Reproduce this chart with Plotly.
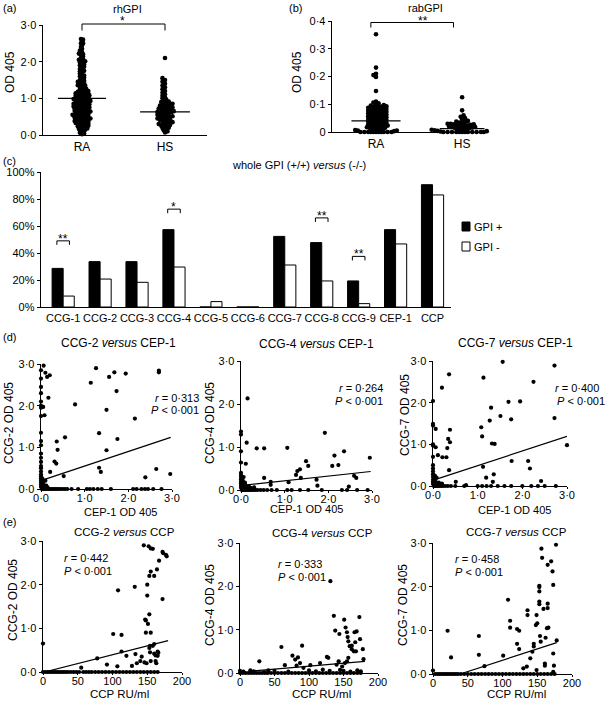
import plotly.graph_objects as go

W, H = 609, 702
FONT = "Liberation Sans, Arial, Helvetica, sans-serif"

# ---------------- data ----------------
groups = ["RA", "HS"]

rhgpi_ra = [0.02, 0.04, 0.06, 0.08, 0.1, 0.12, 0.14, 0.15, 0.17, 0.18, 0.2, 0.21, 0.22, 0.23, 0.25, 0.26, 0.27, 0.28, 0.29, 0.3,
            0.31, 0.32, 0.33, 0.34, 0.35, 0.36, 0.37, 0.38, 0.39, 0.4, 0.41, 0.42, 0.43, 0.44, 0.45, 0.46, 0.47, 0.48, 0.49, 0.5,
            0.51, 0.52, 0.53, 0.54, 0.55, 0.56, 0.57, 0.58, 0.59, 0.6, 0.61, 0.62, 0.63, 0.64, 0.65, 0.66, 0.67, 0.68, 0.69, 0.7,
            0.71, 0.72, 0.73, 0.74, 0.75, 0.76, 0.77, 0.78, 0.79, 0.8, 0.81, 0.82, 0.83, 0.84, 0.85, 0.86, 0.87, 0.88, 0.89, 0.9,
            0.91, 0.92, 0.93, 0.94, 0.95, 0.96, 0.97, 0.98, 0.99, 1.0, 1.01, 1.02, 1.03, 1.04, 1.05, 1.06, 1.07, 1.08, 1.09, 1.1,
            1.11, 1.12, 1.13, 1.14, 1.15, 1.16, 1.17, 1.18, 1.19, 1.2, 1.22, 1.24, 1.26, 1.28, 1.3, 1.32, 1.34, 1.36, 1.38, 1.4,
            1.42, 1.44, 1.46, 1.48, 1.5, 1.53, 1.56, 1.59, 1.62, 1.65, 1.68, 1.71, 1.74, 1.77, 1.8, 1.83, 1.86, 1.89, 1.92, 1.95,
            1.98, 2.01, 2.04, 2.07, 2.1, 2.14, 2.18, 2.22, 2.26, 2.3, 2.35, 2.4, 2.45, 2.5, 2.55, 2.6, 2.62,
            0.24, 0.33, 0.43, 0.53, 0.63, 0.73, 0.83, 0.93, 1.03, 1.13, 0.38, 0.48, 0.58, 0.68, 0.78, 0.88, 0.98, 1.08,
            0.45, 0.55, 0.65, 0.75, 0.85, 0.95, 1.25, 1.35, 1.45, 1.6, 1.75, 1.9, 2.0, 2.05, 2.2, 2.5]
rhgpi_hs = [0.07, 0.1, 0.13, 0.16, 0.19, 0.22, 0.25, 0.27, 0.29, 0.31, 0.33, 0.35, 0.37, 0.39, 0.41, 0.43, 0.45, 0.47, 0.49, 0.51,
            0.53, 0.55, 0.57, 0.59, 0.61, 0.63, 0.65, 0.67, 0.69, 0.71, 0.73, 0.75, 0.77, 0.79, 0.81, 0.83, 0.85, 0.87, 0.89, 0.91,
            0.94, 0.97, 1.0, 1.03, 1.07, 1.11, 1.15, 1.2, 1.25, 1.3, 1.35, 1.4, 1.45, 1.5, 1.55, 2.1,
            0.3, 0.4, 0.5, 0.6, 0.7, 0.8, 0.9, 0.35, 0.45, 0.55, 0.65, 0.75, 0.85, 0.2, 0.26, 0.5, 0.62, 0.72]
rhgpi_means = [1.0, 0.63]

rabgpi_ra = [0, 0, 0, 0, 0, 0, 0, 0, 0, 0, 0,
             0.003, 0.005, 0.007, 0.009, 0.011, 0.013, 0.015, 0.017, 0.019, 0.021, 0.023, 0.025, 0.027, 0.029, 0.031,
             0.033, 0.035, 0.037, 0.039, 0.041, 0.043, 0.045, 0.047, 0.049, 0.051, 0.053, 0.055, 0.057, 0.059, 0.061,
             0.063, 0.065, 0.067, 0.069, 0.071, 0.073, 0.075, 0.077, 0.079, 0.081, 0.083, 0.085, 0.087, 0.089, 0.091,
             0.093, 0.095, 0.097, 0.1, 0.103, 0.106, 0.11, 0.148, 0.198, 0.205, 0.21, 0.232, 0.352,
             0.01, 0.02, 0.03, 0.04, 0.05, 0.06, 0.07, 0.08, 0.09, 0.015, 0.025, 0.035, 0.045, 0.055, 0.065, 0.075,
             0.085, 0.005, 0.012, 0.022, 0.032, 0.042, 0.052, 0.062, 0.072, 0.082, 0.092]
rabgpi_hs = [0, 0, 0, 0, 0, 0, 0, 0, 0, 0, 0, 0,
             0.002, 0.004, 0.006, 0.008, 0.01, 0.012, 0.014, 0.016, 0.018, 0.02, 0.022, 0.024, 0.026, 0.028, 0.03,
             0.032, 0.034, 0.036, 0.038, 0.04, 0.045, 0.05, 0.055, 0.06, 0.078, 0.125,
             0.005, 0.01, 0.015, 0.02, 0.025, 0.03, 0.008, 0.018, 0.028, 0.003, 0.013, 0.023]
rabgpi_means = [0.04, 0.012]

epitopes = ["CCG-1", "CCG-2", "CCG-3", "CCG-4", "CCG-5", "CCG-6", "CCG-7", "CCG-8", "CCG-9", "CEP-1", "CCP"]
gpi_pos_pct = [28.6, 33.6, 33.6, 57.3, 0, 0, 52.3, 47.7, 19.3, 57.3, 90.6]
gpi_neg_pct = [8.1, 20.7, 18.3, 29.6, 4.0, 0, 31.1, 19.3, 2.5, 46.7, 83.0]
sig_epitopes = ["CCG-1", "CCG-4", "CCG-8", "CCG-9"]
sig_marks = ["**", "*", "**", "**"]
sig_levels = [49.0, 72.5, 66.0, 37.5]

# (d) CCG-x versus CEP-1 (OD 405)
d1_x = [0.06, 0.10, 0.14, 0.20, 0.17, 0.05, 0.08, 0.36, 0.38, 0.31, 0.35, 0.21, 0.52, 0.55, 0.78, 1.14, 1.26, 1.33, 1.33, 1.37,
        1.50, 1.50, 1.56, 1.68, 1.73, 1.75, 1.94, 2.15, 2.39, 2.64, 2.70, 2.70, 2.96,
        0.02, 0.04, 0.06, 0.08, 0.10, 0.03, 0.05, 0.12, 0.15]
d1_y = [2.96, 2.79, 2.69, 2.73, 2.19, 1.97, 1.77, 1.14, 0.94, 0.66, 0.61, 0.41, 0.31, 1.24, 2.03, 2.55, 2.90, 1.34, 0.51, 0.41,
        1.90, 0.93, 2.69, 2.80, 2.35, 1.20, 2.77, 1.69, 0.28, 0.48, 2.84, 2.80, 0.36,
        0.20, 0.15, 0.10, 0.05, 0.20, 0.25, 0.12, 0.08, 0.04]
d1_on_yaxis = [2.85, 2.65, 2.45, 2.3, 2.1, 2.0, 1.95, 1.75, 1.35, 1.15, 1.05, 0.85, 0.75, 0.65, 0.55, 0.5, 0.42, 0.35, 0.3,
               0.25, 0.2, 0.15, 0.1, 0.05]
d1_on_xaxis = [0.02, 0.05, 0.08, 0.11, 0.14, 0.17, 0.2, 0.24, 0.28, 0.32, 0.36, 0.4, 0.45, 0.5, 0.55, 0.6, 0.7, 0.85, 1.05,
               1.12, 1.2, 1.3, 1.39, 1.6, 2.11, 2.19, 2.3, 2.38, 2.45, 2.57, 2.76]
d1_fit_x = [0.05, 2.97]
d1_fit_y = [0.22, 1.24]

d2_x = [0.15, 0.13, 0.36, 0.53, 1.06, 1.92, 2.36, 2.14, 2.09, 2.23, 2.95, 1.49, 1.54, 1.35, 1.29, 1.26, 1.37, 1.09, 0.53, 0.68,
        0.68, 1.73, 1.75, 2.59, 2.64, 2.47, 0.11,
        0.03, 0.05, 0.08, 0.1, 0.14, 0.18, 0.22, 0.06, 0.12, 0.3, 0.04, 0.09]
d2_y = [2.13, 1.10, 0.97, 0.97, 0.98, 1.33, 0.90, 0.80, 0.56, 0.58, 0.75, 0.67, 0.56, 0.48, 0.44, 0.35, 0.28, 0.18, 0.28, 0.19,
        0.12, 0.24, 0.10, 0.33, 0.28, 0.08, 0.61,
        0.15, 0.1, 0.07, 0.12, 0.06, 0.09, 0.05, 0.3, 0.04, 0.06, 0.22, 0.17]
d2_on_yaxis = [1.36, 1.29, 0.9, 0.64, 0.4, 0.35, 0.3, 0.25, 0.2, 0.15, 0.1, 0.05]
d2_on_xaxis = [0.02, 0.05, 0.08, 0.11, 0.14, 0.17, 0.2, 0.24, 0.28, 0.33, 0.38, 0.45, 0.52, 0.6, 0.7, 0.82, 1.06, 1.16, 1.35,
               1.54, 1.85, 2.31, 2.43, 2.66, 2.9]
d2_fit_x = [0.05, 2.97]
d2_fit_y = [0.11, 0.43]

d3_x = [0.36, 0.20, 0.06, 0.06, 0.38, 0.34, 0.38, 0.32, 0.11, 0.21, 0.30, 0.36, 1.13, 1.56, 2.72, 2.25, 1.95, 1.69, 1.30, 1.51,
        1.27, 1.75, 2.72, 1.08, 1.10, 1.32, 1.38, 3.00, 1.76, 2.13, 2.17, 1.12, 1.19, 1.36, 1.34, 2.42, 0.51, 0.74,
        0.03, 0.06, 0.1, 0.13, 0.04, 0.08, 0.15, 0.2]
d3_y = [2.68, 2.36, 1.37, 0.93, 1.35, 1.13, 1.05, 0.91, 0.74, 0.69, 0.69, 0.38, 2.60, 2.98, 2.89, 2.50, 2.03, 2.02, 1.88, 1.68,
        1.57, 1.60, 1.63, 1.41, 1.19, 1.02, 1.01, 0.98, 0.60, 0.60, 0.42, 0.46, 0.20, 0.28, 0.10, 0.12, 0.10, 0.02,
        0.15, 0.1, 0.05, 0.08, 0.25, 0.2, 0.04, 0.06]
d3_on_yaxis = [2.04, 1.49, 1.45, 1.0, 0.97, 0.7, 0.5, 0.42, 0.35, 0.28, 0.22, 0.15, 0.1, 0.05]
d3_on_xaxis = [0.02, 0.05, 0.08, 0.11, 0.14, 0.18, 0.22, 0.27, 0.33, 0.4, 0.5, 0.7, 1.0, 1.1, 1.2, 1.3, 1.45, 1.6, 1.75, 2.0,
               2.2, 2.35, 2.5, 2.75]
d3_fit_x = [0.06, 3.0]
d3_fit_y = [0.16, 1.19]

# (e) CCG-x versus CCP (RU/ml)
e1_x = [0, 78, 55, 92, 101, 107, 108, 113, 113, 120, 128, 132, 133, 135, 140, 142, 145, 146, 147, 148, 148, 149, 150, 150, 151,
        152, 153, 153, 153, 154, 154, 155, 155, 155, 155, 158, 158, 160, 160, 162, 162, 163, 164, 165, 165, 166, 167, 172,
        172, 173, 177, 178, 160]
e1_y = [0.65, 0.31, 0.10, 0.17, 0.87, 0.13, 1.87, 0.85, 0.47, 0.37, 0.14, 1.95, 0.41, 0.20, 0.25, 0.35, 2.90, 0.22, 1.20, 1.18,
        0.90, 0.20, 1.75, 2.00, 1.10, 2.88, 2.20, 1.32, 0.55, 0.60, 0.45, 2.83, 2.30, 0.90, 0.25, 2.82, 0.60, 2.20, 0.42,
        0.38, 0.25, 0.20, 2.35, 0.47, 0.37, 0.44, 2.55, 1.67, 2.75, 2.72, 2.68, 2.65, 0.64]
e1_on_xaxis = [0, 3, 6, 9, 12, 15, 18, 21, 24, 27, 30, 33, 36, 40, 44, 48, 52, 58, 62, 66, 70, 75, 80, 85, 90, 95, 100, 105,
               110, 115, 120, 125, 130, 135, 140, 145, 150, 155, 160, 165]
e1_fit_x = [2, 180]
e1_fit_y = [0.0, 0.72]

e2_x = [28, 15, 41, 60, 65, 76, 80, 84, 87, 90, 82, 92, 102, 116, 126, 128, 131, 136, 138, 144, 140, 143, 151, 153, 155, 156,
        157, 159, 162, 162, 165, 166, 167, 169, 173, 174, 178, 179, 168, 155, 157, 152, 148,
        0, 5, 20, 35, 50, 70, 100, 110, 120, 130, 145, 150, 160, 170, 175]
e2_y = [0.27, 0.06, 0.06, 0.60, 0.18, 0.40, 0.31, 0.36, 0.23, 0.63, 0.17, 0.12, 0.18, 0.23, 0.37, 0.35, 2.12, 1.32, 0.98, 0.90,
        0.19, 0.27, 1.23, 1.05, 0.94, 0.83, 0.73, 0.62, 0.63, 0.55, 0.50, 0.94, 0.71, 0.96, 1.29, 0.78, 0.55, 0.32, 0.50,
        0.27, 0.35, 0.23, 0.15,
        0.05, 0.03, 0.04, 0.02, 0.05, 0.03, 0.06, 0.04, 0.08, 0.05, 0.07, 0.05, 0.03, 0.06, 0.04]
e2_on_xaxis = [0, 4, 8, 12, 16, 20, 24, 28, 32, 36, 40, 45, 50, 55, 60, 65, 70, 75, 80, 85, 90, 95, 100, 105, 110, 115, 120,
               125, 130, 135, 140, 145, 150, 155, 160, 165, 170, 175]
e2_fit_x = [15, 181]
e2_fit_y = [0.04, 0.27]

e3_x = [21, 26, 0, 66, 66, 74, 101, 108, 111, 111, 121, 124, 121, 124, 136, 136, 140, 145, 143, 145, 148, 149, 150, 153, 153,
        153, 153, 153, 154, 155, 156, 157, 159, 162, 161, 161, 165, 165, 165, 164, 166, 170, 172, 173, 173, 174, 177, 178,
        173, 135, 130, 149]
e3_y = [0.99, 0.38, 0.08, 0.87, 0.44, 0.18, 0.42, 1.70, 1.22, 1.06, 1.03, 0.99, 0.69, 0.57, 1.46, 1.35, 0.36, 0.69, 0.51, 0.63,
        1.12, 1.35, 1.16, 2.02, 1.99, 1.89, 1.66, 1.60, 0.87, 0.74, 2.87, 2.66, 1.49, 0.83, 0.24, 0.19, 2.50, 1.61, 1.51,
        1.05, 1.06, 2.58, 2.35, 2.04, 0.47, 0.19, 2.96, 0.77, 0.05, 0.17, 0.13, 0.09]
e3_on_xaxis = [3, 6, 9, 12, 15, 18, 21, 24, 27, 30, 33, 36, 40, 45, 50, 55, 60, 65, 70, 75, 80, 85, 90, 95, 100, 105, 110, 115,
               120, 125, 130, 135, 140, 145, 150, 155, 160, 165, 170, 175]
e3_fit_x = [39, 178]
e3_fit_y = [0.0, 0.72]

od_ticks = [0, 1, 2, 3]
od_ticktext = ["0·0", "1·0", "2·0", "3·0"]
rab_ticks = [0, 0.1, 0.2, 0.3, 0.4]
rab_ticktext = ["0", "0·1", "0·2", "0·3", "0·4"]
pct_ticks = [0, 20, 40, 60, 80, 100]
pct_ticktext = ["0%", "20%", "40%", "60%", "80%", "100%"]
ccp_ticks = [0, 50, 100, 150, 200]

# ---------------- helpers ----------------
def px(xp):
    return xp / W


def py(yp):
    return 1 - yp / H


def swarm(values, ypx, xpx, gap):
    """beeswarm layout: x offsets (data units) keeping markers at least `gap` px apart"""
    placed = []
    offs = [0.0] * len(values)
    order = sorted(range(len(values)), key=lambda i: values[i])
    step = gap * 0.5
    for n, i in enumerate(order):
        y = values[i] * ypx
        k = 0
        chosen = None
        while chosen is None:
            if k == 0:
                cands = [0.0]
            else:
                cands = [k * step, -k * step] if n % 2 else [-k * step, k * step]
            for c in cands:
                ok = True
                for (qx, qy) in placed:
                    if abs(qy - y) < gap and (qx - c) ** 2 + (qy - y) ** 2 < gap * gap:
                        ok = False
                        break
                if ok:
                    chosen = c
                    break
            k += 1
        placed.append((chosen, y))
        offs[i] = chosen / xpx
    return offs


fig = go.Figure()
layout = {}
shapes = []
annotations = []

# domains in pixels: (left, right), (top, bottom)
panels = {
    1: ((43, 207), (25, 135)),
    2: ((332, 487), (21, 132)),
    3: ((41, 451), (172, 307)),
    4: ((41, 172), (364, 489)),
    5: ((241, 372), (361, 490)),
    6: ((433, 567), (361, 486)),
    7: ((43, 182), (541, 672)),
    8: ((240, 378), (543, 673)),
    9: ((433, 572), (543, 674)),
}

tickfont = dict(family=FONT, size=11, color="black")


def axname(i, letter):
    return f"{letter}axis" if i == 1 else f"{letter}axis{i}"


def ref(i, letter):
    return letter if i == 1 else f"{letter}{i}"


for i, ((l, r), (t, b)) in panels.items():
    base = dict(showline=True, linecolor="black", linewidth=1.3, showgrid=False, zeroline=False,
                ticks="outside", ticklen=3, tickwidth=1, tickcolor="black", tickfont=tickfont,
                fixedrange=True, automargin=False)
    layout[axname(i, "x")] = dict(base, domain=[px(l), px(r)], anchor=ref(i, "y"), tickangle=0)
    layout[axname(i, "y")] = dict(base, domain=[py(b), py(t)], anchor=ref(i, "x"))


def ann(text, x, y, size=11, xanchor="center", yanchor="middle", angle=0, **kw):
    annotations.append(dict(text=text, x=px(x), y=py(y), xref="paper", yref="paper", showarrow=False,
                            xanchor=xanchor, yanchor=yanchor, textangle=angle,
                            font=dict(family=FONT, size=size, color="black"), **kw))


dot = dict(color="black", size=4.2, line=dict(width=0))

# ---------- (a) and (b) beeswarm panels ----------
sw_specs = [
    (1, [rhgpi_ra, rhgpi_hs], rhgpi_means, [0.53, 2.506], [0, 3], 110 / 3, 83.0, [0.29, 0.30], [2.1, 2.5]),
    (2, [rabgpi_ra, rabgpi_hs], rabgpi_means, [0.489, 2.289], [0, 0.4], 111 / 0.4, 86.1, [0.285, 0.26], [2.6, 2.9]),
]
for (i, sets, means, xr, yr, ypx, xpx, halfw, gaps) in sw_specs:
    for g, vals in enumerate(sets):
        offs = swarm(vals, ypx, xpx, gaps[g])
        fig.add_trace(go.Scatter(x=[g + 1 + o for o in offs], y=vals, mode="markers", marker=dict(dot, size=4.6),
                                 xaxis=ref(i, "x"), yaxis=ref(i, "y"), cliponaxis=False, showlegend=False,
                                 hoverinfo="skip"))
        fig.add_trace(go.Scatter(x=[g + 1 - halfw[g], g + 1 + halfw[g]], y=[means[g], means[g]], mode="lines",
                                 line=dict(color="black", width=1.2), xaxis=ref(i, "x"), yaxis=ref(i, "y"),
                                 cliponaxis=False, showlegend=False, hoverinfo="skip"))
    layout[axname(i, "x")].update(range=xr, tickvals=[1, 2], ticktext=groups, ticks="",
                                  tickfont=dict(family=FONT, size=12, color="black"))
    layout[axname(i, "y")].update(range=yr)

layout["yaxis"].update(tickvals=od_ticks, ticktext=od_ticktext)
layout["yaxis2"].update(tickvals=rab_ticks, ticktext=rab_ticktext)

# significance brackets (a), (b)
for (i, xl, xr_, ytop, ybot, mark, sx, sy) in [(1, 1.0, 2.0, 24, 30.5, "*", 122, 21),
                                                (2, 0.94, 1.9, 22.5, 27.5, "**", 423, 21)]:
    shapes.append(dict(type="path", xref=ref(i, "x"), yref="paper",
                       path=f"M {xl},{py(ybot)} L {xl},{py(ytop)} L {xr_},{py(ytop)} L {xr_},{py(ybot)}",
                       line=dict(color="black", width=1)))
    ann(mark, sx, sy, size=12)

ann("(a)", 1, 8, xanchor="left")
ann("(b)", 287, 8, xanchor="left")
ann("rhGPI", 127, 9)
ann("rabGPI", 425, 8)
ann("OD 405", 10, 72, size=12, angle=-90)
ann("OD 405", 297, 72, size=12, angle=-90)

# ---------- (c) grouped bars ----------
fig.add_trace(go.Bar(x=epitopes, y=gpi_pos_pct, name="GPI +", marker=dict(color="black", line=dict(color="black", width=1)),
                     xaxis="x3", yaxis="y3", showlegend=False, hoverinfo="skip"))
fig.add_trace(go.Bar(x=epitopes, y=gpi_neg_pct, name="GPI -", marker=dict(color="white", line=dict(color="black", width=1)),
                     xaxis="x3", yaxis="y3", showlegend=False, hoverinfo="skip"))
layout["xaxis3"].update(type="category", range=[-0.6, 10.5], ticks="", categoryorder="array", categoryarray=epitopes,
                        tickfont=dict(family=FONT, size=11, color="black"), tickangle=0)
layout["yaxis3"].update(range=[0, 100], tickvals=pct_ticks, ticktext=pct_ticktext)

for name, mark, lvl in zip(sig_epitopes, sig_marks, sig_levels):
    c = epitopes.index(name)
    shapes.append(dict(type="path", xref="x3", yref="y3",
                       path=f"M {c - 0.17},{lvl - 3} L {c - 0.17},{lvl} L {c + 0.17},{lvl} L {c + 0.17},{lvl - 3}",
                       line=dict(color="black", width=1)))
    annotations.append(dict(text=mark, x=c, y=lvl + 1.5, xref="x3", yref="y3", showarrow=False,
                            xanchor="center", yanchor="middle", font=dict(family=FONT, size=12, color="black")))

ann("(c)", 1, 161, xanchor="left")
ann("whole GPI (+/+) <i>versus</i> (-/-)", 299, 165)
# legend (drawn manually)
for (ytop, fill, label) in [(222, "black", "GPI +"), (242, "white", "GPI -")]:
    shapes.append(dict(type="rect", xref="paper", yref="paper", x0=px(462), x1=px(470), y0=py(ytop + 9), y1=py(ytop),
                       fillcolor=fill, line=dict(color="black", width=1)))
    ann(label, 472, ytop + 5, xanchor="left")

# ---------- (d) and (e) scatter panels ----------
scatter_specs = [
    (4, d1_x, d1_y, d1_on_yaxis, d1_on_xaxis, d1_fit_x, d1_fit_y),
    (5, d2_x, d2_y, d2_on_yaxis, d2_on_xaxis, d2_fit_x, d2_fit_y),
    (6, d3_x, d3_y, d3_on_yaxis, d3_on_xaxis, d3_fit_x, d3_fit_y),
    (7, e1_x, e1_y, [], e1_on_xaxis, e1_fit_x, e1_fit_y),
    (8, e2_x, e2_y, [], e2_on_xaxis, e2_fit_x, e2_fit_y),
    (9, e3_x, e3_y, [], e3_on_xaxis, e3_fit_x, e3_fit_y),
]
for (i, xs, ys, on_y, on_x, fx, fy) in scatter_specs:
    allx = list(xs) + [0] * len(on_y) + list(on_x)
    ally = list(ys) + list(on_y) + [0] * len(on_x)
    fig.add_trace(go.Scatter(x=allx, y=ally, mode="markers", marker=dot, xaxis=ref(i, "x"), yaxis=ref(i, "y"),
                             cliponaxis=False, showlegend=False, hoverinfo="skip"))
    fig.add_trace(go.Scatter(x=fx, y=fy, mode="lines", line=dict(color="black", width=1.2),
                             xaxis=ref(i, "x"), yaxis=ref(i, "y"), cliponaxis=False, showlegend=False,
                             hoverinfo="skip"))
    layout[axname(i, "y")].update(range=[0, 3], tickvals=od_ticks, ticktext=od_ticktext)
    layout[axname(i, "x")].update(ticklen=2, ticklabelstandoff=-4)
    if i <= 6:
        layout[axname(i, "x")].update(range=[0, 3], tickvals=od_ticks, ticktext=od_ticktext)
    else:
        layout[axname(i, "x")].update(range=[0, 200], tickvals=ccp_ticks)

ann("(d)", 1, 337, xanchor="left")
ann("(e)", 1, 522, xanchor="left")

d_titles = ["CCG-2 <i>versus</i> CEP-1", "CCG-4 <i>versus</i> CEP-1", "CCG-7 <i>versus</i> CEP-1"]
e_titles = ["CCG-2 <i>versus</i> CCP", "CCG-4 <i>versus</i> CCP", "CCG-7 <i>versus</i> CCP"]
y_titles = ["CCG-2 OD 405", "CCG-4 OD 405", "CCG-7 OD 405"]
r_d = ["0·313", "0·264", "0·400"]
r_e = ["0·442", "0·333", "0·458"]

for k, (tx, ty) in enumerate([(118, 343), (316, 344), (515, 343)]):
    ann(d_titles[k], tx, ty, size=12)
for k, (tx, ty) in enumerate([(124, 532), (322, 533), (516, 532)]):
    ann(e_titles[k], tx, ty, size=11.5)
for k, (tx, ty) in enumerate([(9, 423), (210, 423), (405, 415)]):
    ann(y_titles[k], tx, ty, size=12, angle=-90)
for k, (tx, ty) in enumerate([(13, 600), (210, 605), (403, 605)]):
    ann(y_titles[k], tx, ty, size=12, angle=-90)
for (tx, ty) in [(120, 512), (306, 509), (514, 510)]:
    ann("CEP-1 OD 405", tx, ty, size=11)
for (tx, ty) in [(119, 694), (321, 694), (516, 694)]:
    ann("CCP RU/ml", tx, ty, size=11.5)

# r / P annotations (two separate lines)
r_pos_d = [(201, 398, "right", 201, "right"), (385, 388, "right", 385, "right"), (601, 388, "right", 555, "left")]
for k, (tx, ty, xa, tx2, xa2) in enumerate(r_pos_d):
    ann(f"<i>r</i> = {r_d[k]}", tx, ty, size=11, xanchor=xa)
    ann("<i>P</i> &lt; 0·001", tx2, ty + 12.5, size=11, xanchor=xa2)
for k, (tx, ty) in enumerate([(62, 558), (276, 564), (453, 559)]):
    ann(f"<i>r</i> = {r_e[k]}", tx, ty, size=11, xanchor="left")
    ann("<i>P</i> &lt; 0·001", tx, ty + 12.5, size=11, xanchor="left")

fig.update_layout(
    width=W, height=H, autosize=False,
    margin=dict(l=0, r=0, t=0, b=0, pad=0, autoexpand=False),
    paper_bgcolor="white", plot_bgcolor="white",
    font=dict(family=FONT, size=11, color="black"),
    barmode="group", bargap=0.4, bargroupgap=0,
    showlegend=False, shapes=shapes, annotations=annotations,
    **layout,
)

page_fix = ("document.documentElement.style.margin='0';document.documentElement.style.padding='0';"
            "document.body.style.margin='0';document.body.style.padding='0';"
            "document.documentElement.style.overflow='hidden';document.body.style.overflow='hidden';")
fig.write_html("out.html", post_script=page_fix, config={"displayModeBar": False, "staticPlot": True})
